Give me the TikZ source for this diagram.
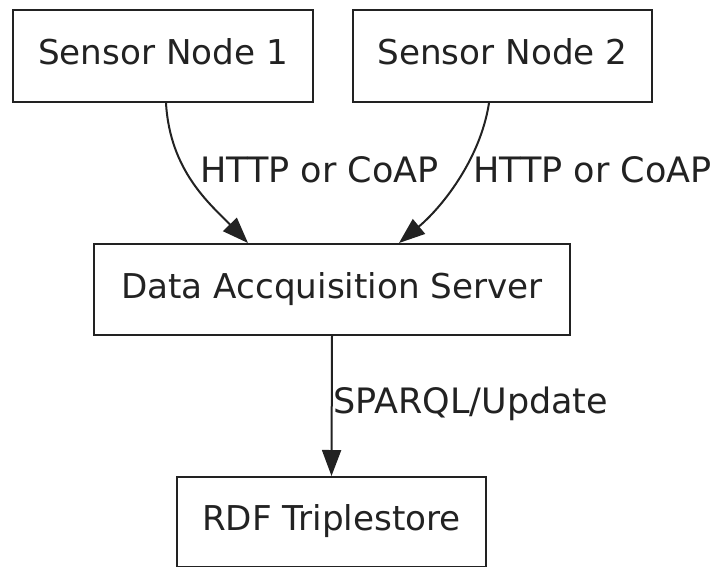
\documentclass[tikz,border=0pt]{standalone}
\usepackage{fontspec}
\setmainfont{DejaVu Sans}
\usetikzlibrary{arrows.meta}
\definecolor{ink}{HTML}{222222}
\tikzset{
  box/.style={draw=ink, line width=2pt, rectangle, inner sep=0pt,
    font=\fontsize{34.2}{40}\selectfont, text=ink,
    text height=26pt, text depth=8.5pt},
  flow/.style={draw=ink, line width=2pt, -{Triangle[length=26pt,width=19pt]}},
  elabel/.style={inner sep=0pt, anchor=base west, text=ink,
    font=\fontsize{35}{40}\selectfont}
}
\begin{document}
\begin{tikzpicture}[x=1pt,y=1pt]
  \useasboundingbox (0,0) rectangle (716,-566);

  % nodes
  \node[box, minimum width=300pt, minimum height=92pt] (sn1) at (163,-56) {Sensor Node 1};
  \node[box, minimum width=299pt, minimum height=92pt] (sn2) at (502.5,-56) {Sensor Node 2};
  \node[box, minimum width=476pt, minimum height=91pt] (das) at (332,-289.5) {Data Accquisition Server};
  \node[box, minimum width=309pt, minimum height=90pt] (rdf) at (331.5,-522) {RDF Triplestore};

  % connectors
  \draw[flow] ([xshift=3pt]sn1.south) .. controls ([xshift=7pt,yshift=-68pt]sn1.south) and ([xshift=-122pt,yshift=39pt]das.north) .. ([xshift=-84pt]das.north);
  \draw[flow] ([xshift=-13.5pt]sn2.south) .. controls ([xshift=-22.5pt,yshift=-58pt]sn2.south) and ([xshift=108pt,yshift=34pt]das.north) .. ([xshift=67pt]das.north);
  \draw[flow] (das.south) -- (rdf.north);

  % labels
  \node[elabel] (l1) at (200,-182) {HTTP or CoAP};
  \node[elabel] (l2) at (473,-182) {HTTP or CoAP};
  \node[elabel] (l3) at (333,-413) {SPARQL/Update};
\end{tikzpicture}
\end{document}
